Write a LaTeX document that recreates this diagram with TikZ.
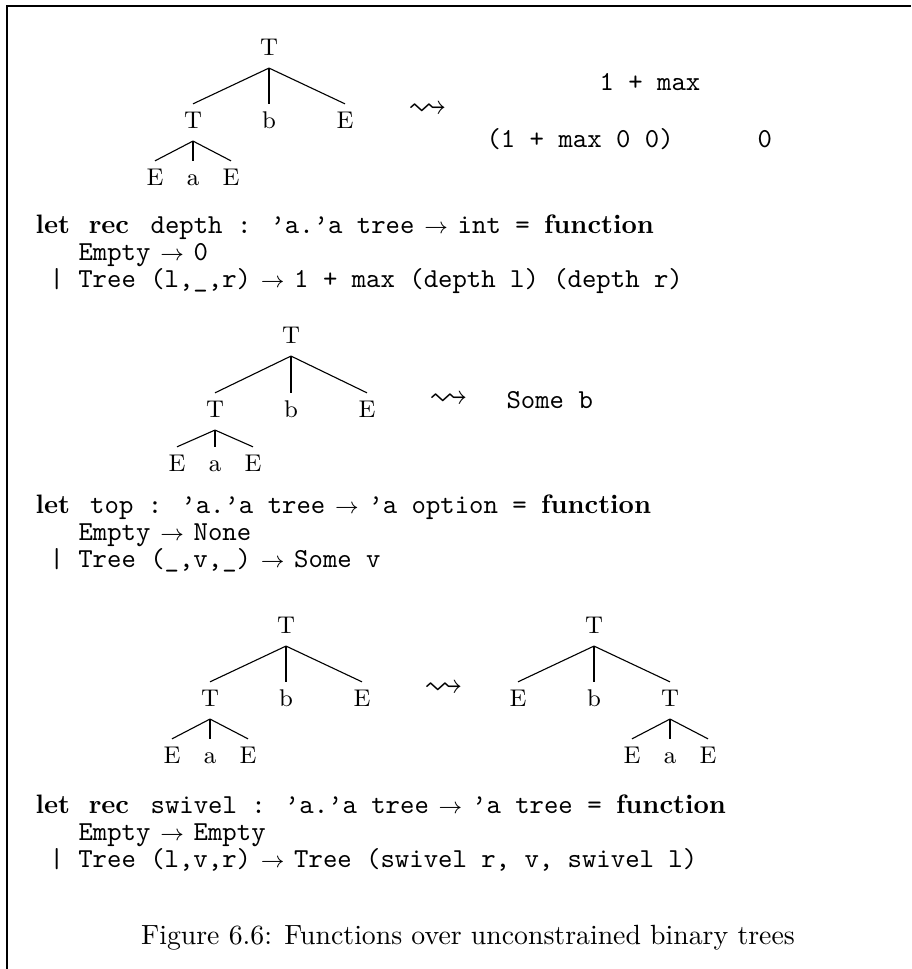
\documentclass[tikz,border=0pt]{standalone}
\usepackage{amssymb}
\usepackage{fontspec}
\newlength\cw
\setlength\cw{5.18pt}
\newcommand\kw[2]{\makebox[#1\cw][l]{\rmfamily\bfseries\fontsize{9.6}{11}\selectfont #2}}
\newcommand\ar{\makebox[\cw]{\fontsize{8.5}{10}\selectfont$\rightarrow$}}

\begin{document}
\begin{tikzpicture}[x=0.36pt, y=-0.36pt,
    tn/.style={inner sep=0pt, inner ysep=2.5pt, text height=6pt, text depth=2pt,
        anchor=base, font=\fontsize{8.7}{10}\selectfont},
    code/.style={inner sep=0pt, anchor=base west, font=\ttfamily\fontsize{9.87}{12}\selectfont},
    squig/.style={inner sep=0pt, font=\fontsize{14}{16}\selectfont}]

\useasboundingbox (0,0) rectangle (911,969);

% Frame
\draw[line width=0.4pt] (7,969) -- (7,6) -- (911,6);

% ===========================
% depth
% ===========================

% Tree
\node[tn] (d) at (269,55) {T};
\node[tn] (dl) at (193,128) {T};
\node[tn] (dv) at (269,128) {b};
\node[tn] (dr) at (345,128) {E};
\node[tn] (dll) at (155,185) {E};
\node[tn] (dlv) at (193,185) {a};
\node[tn] (dlr) at (231,185) {E};
\foreach \c in {dl,dv,dr} \draw (d.south) -- (\c.north);
\foreach \c in {dll,dlv,dlr} \draw (dl.south) -- (\c.north);

% Result
\node[squig] (dto) at (428,110) {$\leadsto$};
\node[code] (dtop) at (599,90) {1 + max};
\node[code] (dres1) at (486,147) {(1 + max 0 0)};
\node[code] (dres2) at (757,147) {0};

% Code
\node[code] (dc1) at (35,233) {\kw{2.7}{let} \kw{3.3}{rec} depth : ’a.’a tree \ar{} int = \kw{8}{function}};
\node[code] (dc2) at (78,260) {Empty \ar{} 0};
\node[code] (dc3) at (49,287) {| Tree (l,\_,r) \ar{} 1 + max (depth l) (depth r)};

% ===========================
% top
% ===========================

% Tree
\node[tn] (t) at (291,343) {T};
\node[tn] (tl) at (215,417) {T};
\node[tn] (tv) at (291,417) {b};
\node[tn] (tr) at (367,417) {E};
\node[tn] (tll) at (177,471) {E};
\node[tn] (tlv) at (215,471) {a};
\node[tn] (tlr) at (253,471) {E};
\foreach \c in {tl,tv,tr} \draw (t.south) -- (\c.north);
\foreach \c in {tll,tlv,tlr} \draw (tl.south) -- (\c.north);

% Result
\node[squig] (tto) at (449,400) {$\leadsto$};
\node[code] (tres) at (506,408) {Some b};

% Code
\node[code] (tc1) at (35,513) {\kw{2.8}{let} top : ’a.’a tree \ar{} ’a option = \kw{8}{function}};
\node[code] (tc2) at (78,540) {Empty \ar{} None};
\node[code] (tc3) at (49,567) {| Tree (\_,v,\_) \ar{} Some v};

% ===========================
% swivel
% ===========================

% Tree before
\node[tn] (s) at (286,633) {T};
\node[tn] (sl) at (210,706) {T};
\node[tn] (sv) at (286,706) {b};
\node[tn] (sr) at (362,706) {E};
\node[tn] (sll) at (172,763) {E};
\node[tn] (slv) at (210,763) {a};
\node[tn] (slr) at (248,763) {E};
\foreach \c in {sl,sv,sr} \draw (s.south) -- (\c.north);
\foreach \c in {sll,slv,slr} \draw (sl.south) -- (\c.north);

\node[squig] (sto) at (444,689) {$\leadsto$};

% Tree after
\node[tn] (w) at (594,633) {T};
\node[tn] (wl) at (518,706) {E};
\node[tn] (wv) at (594,706) {b};
\node[tn] (wr) at (670,706) {T};
\node[tn] (wrl) at (632,763) {E};
\node[tn] (wrv) at (670,763) {a};
\node[tn] (wrr) at (708,763) {E};
\foreach \c in {wl,wv,wr} \draw (w.south) -- (\c.north);
\foreach \c in {wrl,wrv,wrr} \draw (wr.south) -- (\c.north);

% Code
\node[code] (sc1) at (35,813) {\kw{2.7}{let} \kw{3.3}{rec} swivel : ’a.’a tree \ar{} ’a tree = \kw{8}{function}};
\node[code] (sc2) at (78,840) {Empty \ar{} Empty};
\node[code] (sc3) at (49,867) {| Tree (l,v,r) \ar{} Tree (swivel r, v, swivel l)};

% Caption
\node[anchor=base, font=\fontsize{10}{12}\selectfont] (cap) at (468,944)
    {Figure 6.6: Functions over unconstrained binary trees};

\end{tikzpicture}
\end{document}
